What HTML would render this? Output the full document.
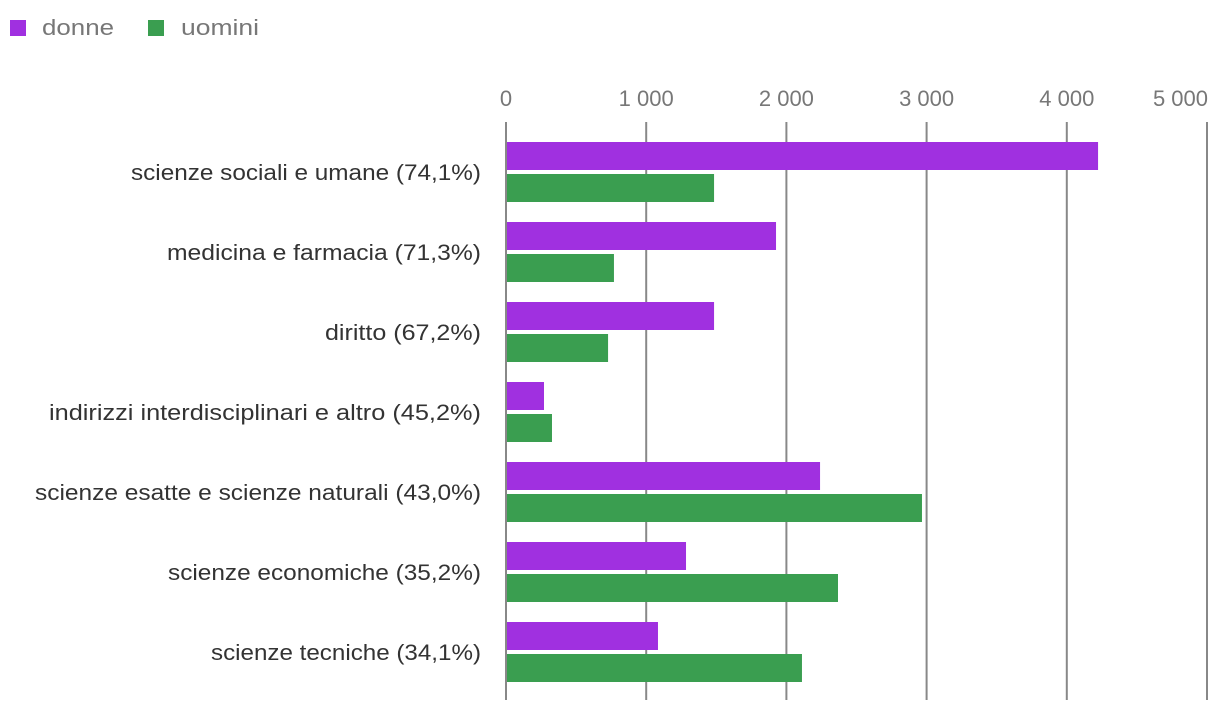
<!DOCTYPE html>
<html><head><meta charset="utf-8"><style>
body{margin:0;background:#fff;}
svg{display:block;font-family:"Liberation Sans",sans-serif;}
</style></head><body>
<svg width="1220" height="714">
<g id="legend">
 <rect x="10" y="20" width="16" height="16" fill="#a030e0"/>
 <text x="42" y="35" font-size="22" fill="#777" textLength="72" lengthAdjust="spacingAndGlyphs">donne</text>
 <rect x="148" y="20" width="16" height="16" fill="#3a9e50"/>
 <text x="181" y="35" font-size="22" fill="#777" textLength="78" lengthAdjust="spacingAndGlyphs">uomini</text>
</g>
<g id="grid"></g><g id="bars"></g><g id="labels"></g>
</svg>
<script>
const categories=["scienze sociali e umane (74,1%)","medicina e farmacia (71,3%)","diritto (67,2%)","indirizzi interdisciplinari e altro (45,2%)","scienze esatte e scienze naturali (43,0%)","scienze economiche (35,2%)","scienze tecniche (34,1%)"];
const donne=[4223,1926,1484,271,2240,1284,1084];
const uomini=[1484,770,728,328,2967,2368,2111];
const ticks=[0,1000,2000,3000,4000,5000];
const tickLabels=["0","1 000","2 000","3 000","4 000","5 000"];
const labelWidths=[350,314,156,432,446,313,270];
const NS="http://www.w3.org/2000/svg";
const x=v=>506+v*0.1402;
const y=i=>142+i*80;
function mk(t,a,p){const e=document.createElementNS(NS,t);for(const k in a)e.setAttribute(k,a[k]);p.appendChild(e);return e;}
const grid=document.getElementById('grid'),bars=document.getElementById('bars'),labels=document.getElementById('labels');
ticks.forEach((t,i)=>{
 const l=mk('line',{x1:x(t),x2:x(t),y1:122,y2:700,stroke:'#888','stroke-width':2},grid);
 
 
 const last=i===ticks.length-1;
 const tx=mk('text',{x:last?x(t)+1:x(t),y:106,'font-size':22,fill:'#777','text-anchor':last?'end':'middle'},grid);
 tx.textContent=tickLabels[i];
 
 
});
categories.forEach((c,i)=>{
 const b1=mk('rect',{x:x(0)+1,y:y(i),width:x(donne[i])-x(0)-1,height:28,fill:'#a030e0'},bars);
 
 
 const b2=mk('rect',{x:x(0)+1,y:y(i)+32,width:x(uomini[i])-x(0)-1,height:28,fill:'#3a9e50'},bars);
 
 
 const t=mk('text',{x:481,y:y(i)+38,'font-size':22,fill:'#333','text-anchor':'end',textLength:labelWidths[i],lengthAdjust:'spacingAndGlyphs'},labels);
 t.textContent=c;
 
 
});
</script>
</body></html>
